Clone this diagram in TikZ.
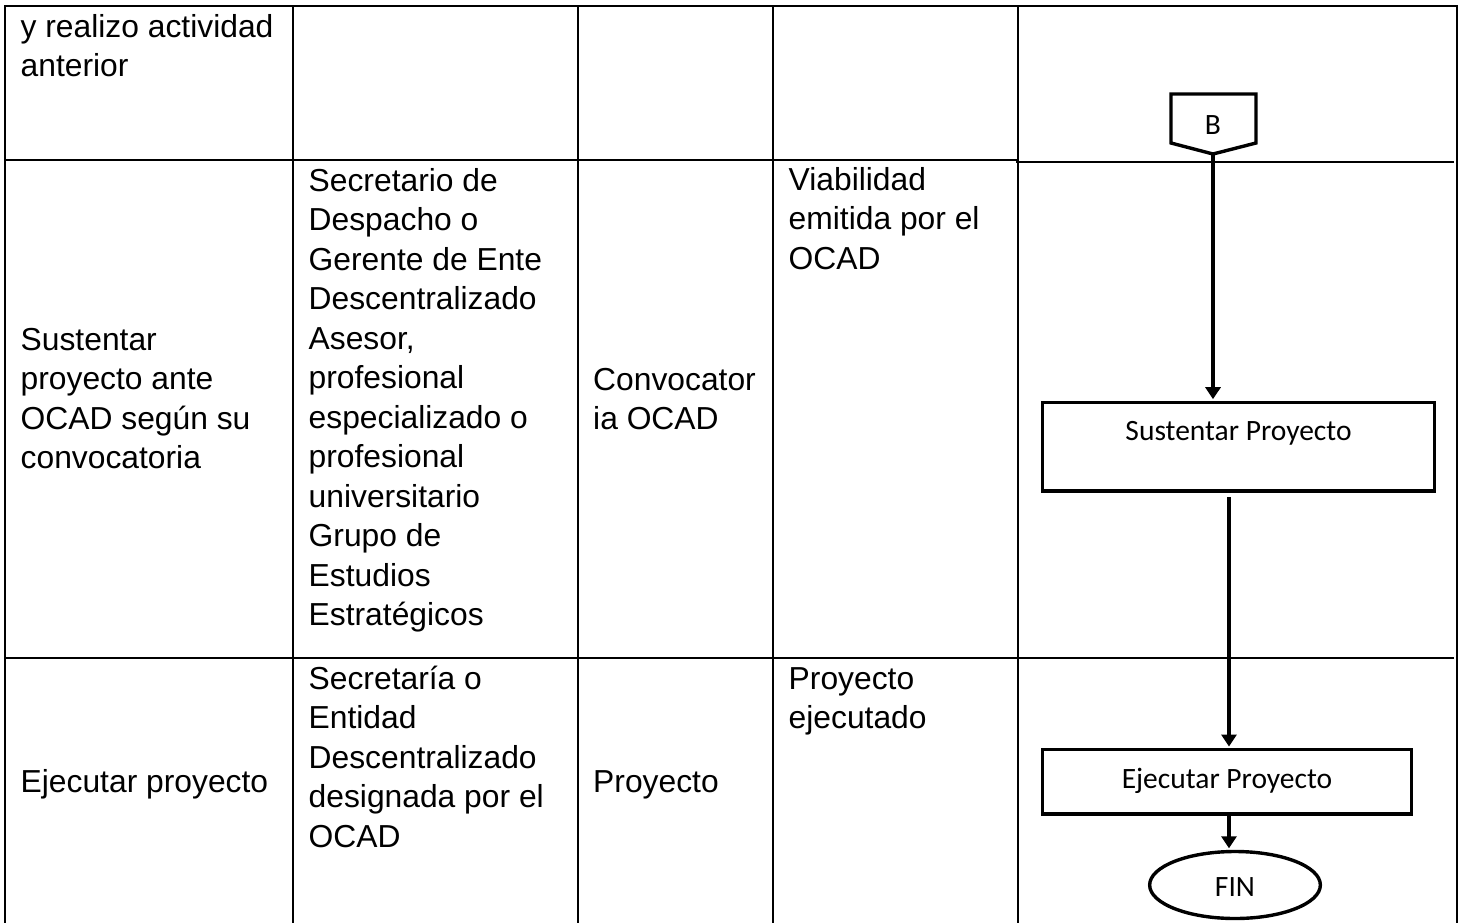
\documentclass[tikz,border=0pt]{standalone}
\usepackage{fontspec}
\setmainfont{Liberation Sans}
\newfontfamily\flowfont{Carlito}
\usetikzlibrary{arrows.meta,shapes.geometric}
\newcommand\celllines[1]{\vtop{\baselineskip=39.5pt\lineskiplimit=-100pt\halign{##\hfil\cr#1\crcr}}}
\begin{document}
\begin{tikzpicture}[x=1pt,y=-1pt,
  grid/.style={line width=2pt, line cap=rect},
  cell/.style={anchor=base west, inner sep=0pt, font=\fontsize{31.8}{40}\selectfont},
  procbox/.style={draw, rectangle, line width=3.4pt, inner sep=0pt},
  ftext/.style={anchor=base, inner sep=0pt, font=\flowfont\fontsize{29.5}{34}\selectfont},
  arr/.style={line width=3.4pt, -{Triangle[length=12pt,width=15pt]}},
]
\useasboundingbox (0,0) rectangle (1460,922);
% table grid
\draw[grid] (5,6) -- (1457,6);
\foreach \x in {5,293,578,773,1018,1457} \draw[grid] (\x,6) -- (\x,922);
\draw[grid] (5,160) -- (1018,160);
\draw[grid] (1017,162) -- (1453,162);
\draw[grid] (5,658) -- (1453,658);
% row 1
\node[cell] (r1c1) at (20.5,37) {\celllines{y realizo actividad\cr anterior}};
% row 2
\node[cell] (r2c1) at (20.5,350) {\celllines{Sustentar\cr proyecto ante\cr OCAD según su\cr convocatoria}};
\node[cell] (r2c2) at (308.5,191) {\celllines{Secretario de\cr Despacho o\cr Gerente de Ente\cr Descentralizado\cr Asesor,\cr profesional\cr especializado o\cr profesional\cr universitario\cr Grupo de\cr Estudios\cr Estratégicos}};
\node[cell] (r2c3) at (593,390) {\celllines{Convocator\cr ia OCAD}};
\node[cell] (r2c4) at (788.5,190) {\celllines{Viabilidad\cr emitida por el\cr OCAD}};
% row 3
\node[cell] (r3c1) at (20.5,792) {Ejecutar proyecto};
\node[cell] (r3c2) at (308.5,689) {\celllines{Secretaría o\cr Entidad\cr Descentralizado\cr designada por el\cr OCAD}};
\node[cell] (r3c3) at (593,792) {Proyecto};
\node[cell] (r3c4) at (788.5,689) {\celllines{Proyecto\cr ejecutado}};
% flowchart
\draw[line width=3.4pt, line join=miter] (1171,94) -- (1256,94) -- (1256,143) -- (1213,154) -- (1171,143) -- cycle;
\node[ftext] (B) at (1213,134) {B};
\coordinate (Btip) at (1213,154);
\node[procbox, minimum width=392pt, minimum height=88.6pt] (sp) at (1238.4,446.7) {};
\node[ftext] (sptext) at (1238.5,440) {Sustentar Proyecto};
\node[procbox, minimum width=369pt, minimum height=64.3pt] (ej) at (1226.9,781.9) {};
\node[ftext] (ejtext) at (1227,788) {Ejecutar Proyecto};
\node[draw, ellipse, line width=3.4pt, inner sep=0pt, minimum width=170.7pt, minimum height=67pt] (fin) at (1235,885) {};
\node[ftext] (fintext) at (1235,896.5) {FIN};
\coordinate (c2) at (1229,497);
\draw[arr, shorten >=1.5pt] (Btip) -- (Btip |- sp.north);
\draw[arr, shorten >=1.5pt] (c2) -- (c2 |- ej.north);
\draw[arr, shorten >=1.5pt] (c2 |- ej.south) -- (c2 |- fin.north);
\end{tikzpicture}
\end{document}
